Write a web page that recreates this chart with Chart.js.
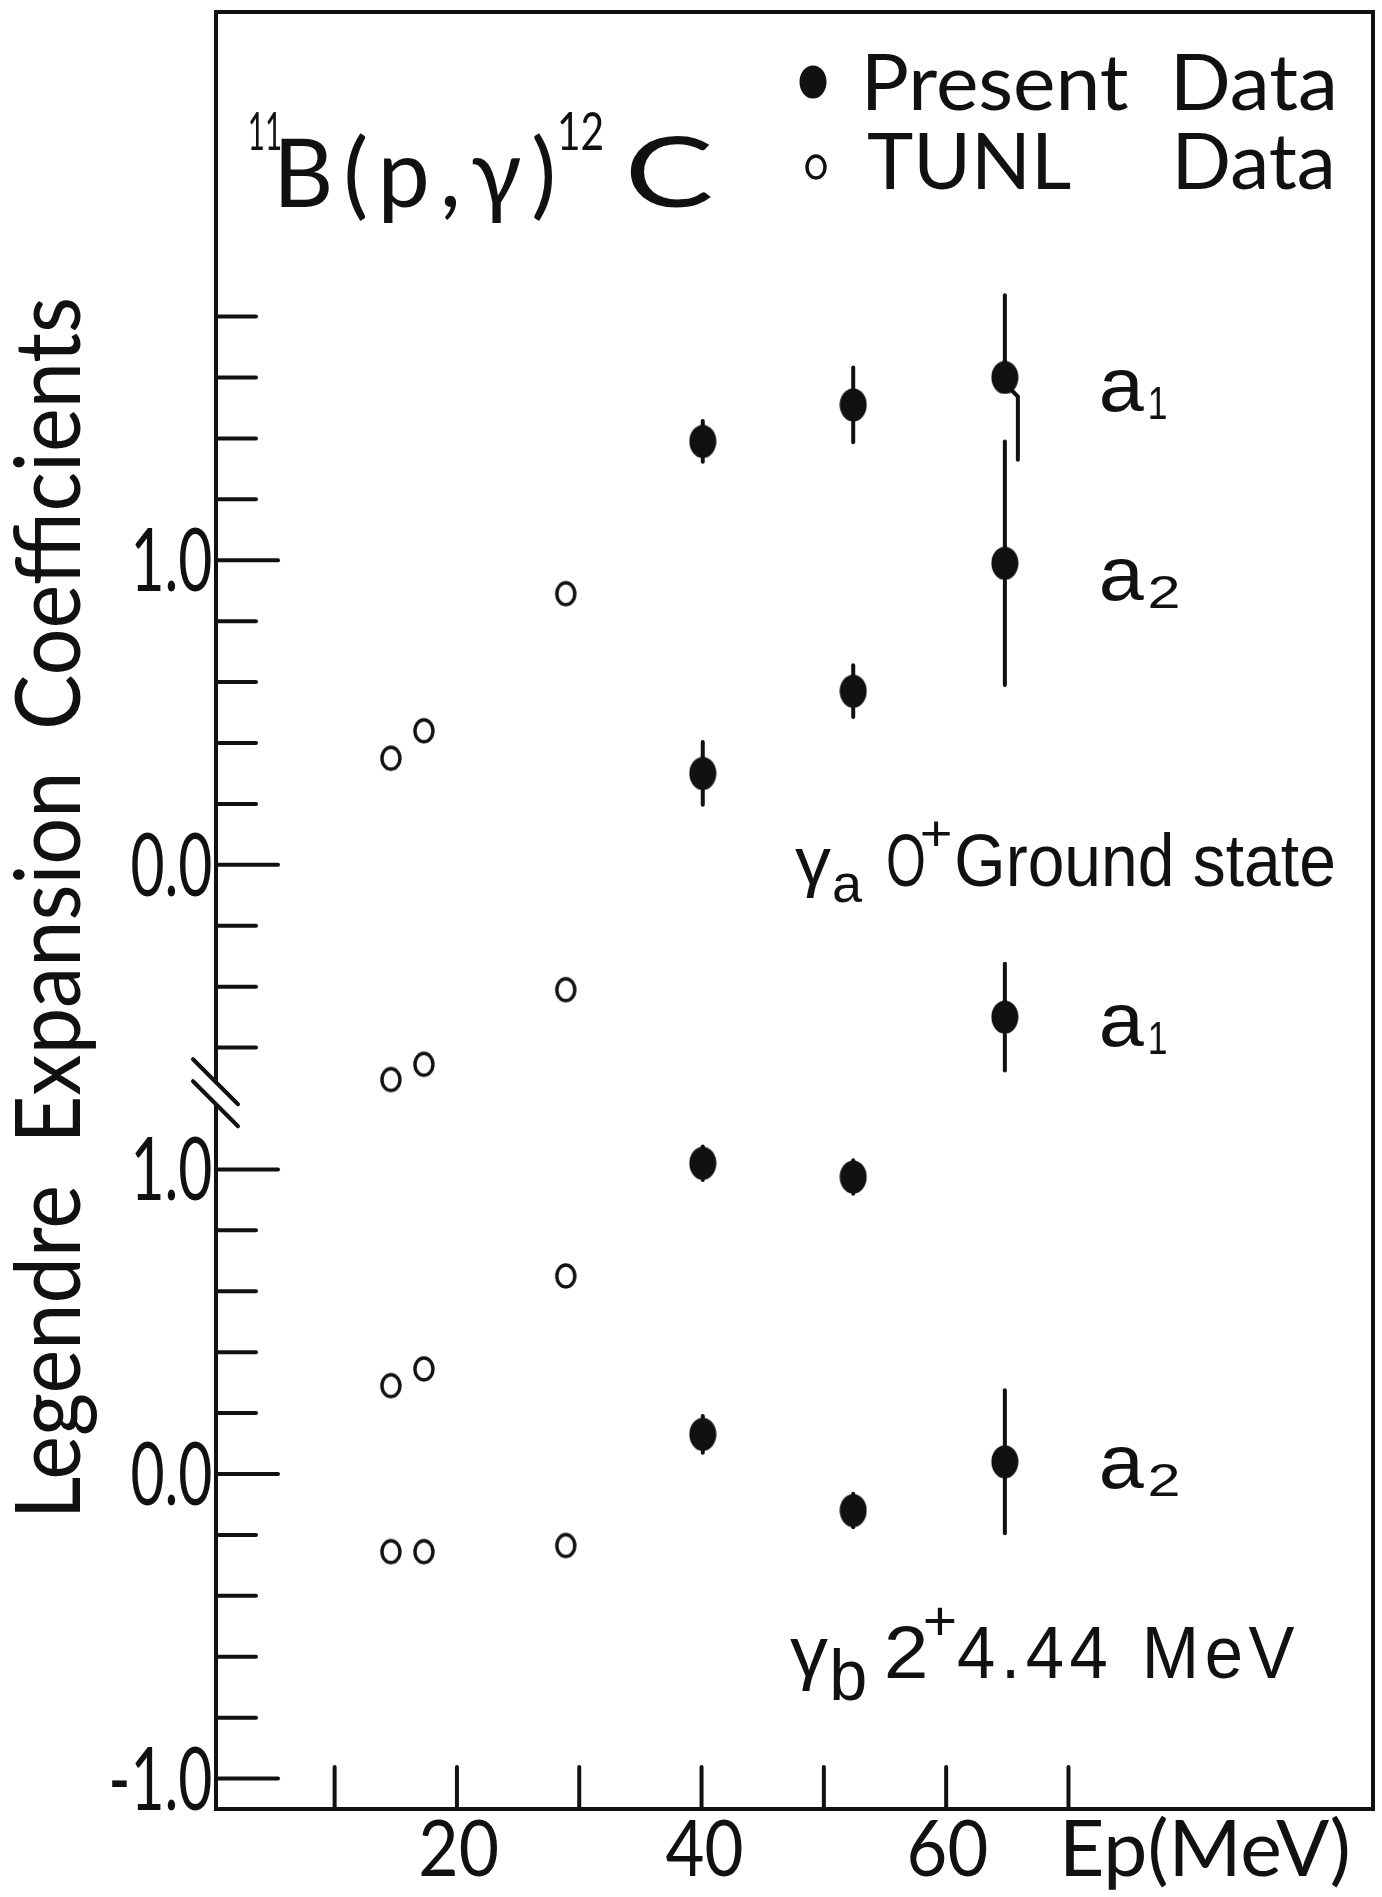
<!DOCTYPE html>
<html>
<head>
<meta charset="utf-8">
<script src="https://cdn.jsdelivr.net/npm/chart.js@4.4.1/dist/chart.umd.min.js"></script>
<style>
html,body{margin:0;padding:0;background:#fff;}
canvas{display:block;}
</style>
</head>
<body>
<canvas id="c" width="1382" height="1897"></canvas>
<script>
// ---------------- DATA ----------------
// Proton energies (MeV)
const energiesPresent = [40.1, 52.4, 64.8];
const energiesTUNL    = [14.6, 17.3, 28.9];

// gamma_a : 0+ ground state (upper panel of the broken axis)
const gammaA_a1      = [1.39, 1.51, 1.60];
const gammaA_a1_err  = [0.067, 0.123, 0.27];
const gammaA_a2      = [0.30, 0.57, 0.99];
const gammaA_a2_err  = [0.103, 0.085, 0.40];
const tunlGammaA_a1  = [0.35, 0.44, 0.89];
const tunlGammaA_a2  = [-0.705, -0.655, -0.41];

// gamma_b : 2+ 4.44 MeV (lower panel)
const gammaB_a1      = [1.02, 0.975, 1.50];
const gammaB_a1_err  = [0.055, 0.055, 0.175];
const gammaB_a2      = [0.13, -0.12, 0.04];
const gammaB_a2_err  = [0.06, 0.055, 0.235];
const tunlGammaB_a1  = [0.29, 0.345, 0.65];
const tunlGammaB_a2  = [-0.255, -0.255, -0.235];

// axis ticks
const upperSectionTicks  = [-0.6,-0.4,-0.2,0.0,0.2,0.4,0.6,0.8,1.0,1.2,1.4,1.6,1.8];
const upperSectionLabels = [0.0, 1.0];
const lowerSectionTicks  = [-1.0,-0.8,-0.6,-0.4,-0.2,0.0,0.2,0.4,0.6,0.8,1.0];
const lowerSectionLabels = [-1.0, 0.0, 1.0];
const xTicks      = [10, 20, 30, 40, 50, 60, 70];
const xTickLabels = [20, 40, 60];

const UPPER_OFFSET = 2.0;   // upper panel value 0.0 sits at lower-panel value 2.0
const BREAK_AT     = 1.25;  // where the axis break is drawn

const yAxisTitle = 'Legendre Expansion Coefficients';
const xAxisTitle = 'Ep(MeV)';

// ---------------- HELPERS ----------------
const FONT = 'Liberation Sans';
const LATO = {family: 'Lato', weight: '400', capRatio: 0.717};
const INK = '#111';
function toPlot(v, section){ return section === 'upper' ? v + UPPER_OFFSET : v; }

function makeFilled(){
  const c = document.createElement('canvas'); c.width = 28; c.height = 34;
  const g = c.getContext('2d'); g.fillStyle = INK;
  g.beginPath(); g.ellipse(14, 17, 13.5, 16.5, 0, 0, Math.PI*2); g.fill();
  return c;
}
function makeOpen(){
  const c = document.createElement('canvas'); c.width = 24; c.height = 28;
  const g = c.getContext('2d'); g.strokeStyle = INK; g.lineWidth = 3.4;
  g.beginPath(); g.ellipse(12, 14, 9, 11, 0, 0, Math.PI*2); g.stroke();
  return c;
}
const filledDot = makeFilled();
const openDot = makeOpen();

// draw text whose ink box starts at x (or is centred / right aligned), with given cap height and ink width
function drawFit(ctx, text, x, baseline, capH, width, o = {}){
  const size = o.size || capH / (o.capRatio || 0.729);
  ctx.font = `${o.weight || 'normal'} ${size}px "${o.family || FONT}"`;
  if ('letterSpacing' in ctx) ctx.letterSpacing = (o.letterSpacing || 0) + 'px';
  if ('wordSpacing' in ctx) ctx.wordSpacing = (o.wordSpacing || 0) + 'px';
  const m = ctx.measureText(text);
  const w = m.actualBoundingBoxLeft + m.actualBoundingBoxRight;
  const sx = width ? width / w : (o.sx || 1);
  const W = w * sx;
  let x0 = x;
  if (o.align === 'center') x0 = x - W/2;
  if (o.align === 'right') x0 = x - W;
  ctx.save();
  ctx.translate(x0 + m.actualBoundingBoxLeft * sx, baseline);
  ctx.scale(sx, 1);
  ctx.textAlign = 'left'; ctx.textBaseline = 'alphabetic';
  ctx.fillStyle = INK;
  ctx.fillText(text, 0, 0);
  ctx.restore();
  if ('letterSpacing' in ctx) ctx.letterSpacing = '0px';
  if ('wordSpacing' in ctx) ctx.wordSpacing = '0px';
  return x0 + W;
}

// ---------------- DATASETS ----------------
const presentGroups = [
  {vals: gammaA_a1, errs: gammaA_a1_err, section: 'upper'},
  {vals: gammaA_a2, errs: gammaA_a2_err, section: 'upper'},
  {vals: gammaB_a1, errs: gammaB_a1_err, section: 'lower'},
  {vals: gammaB_a2, errs: gammaB_a2_err, section: 'lower'}
];
const tunlGroups = [
  {vals: tunlGammaA_a1, section: 'upper'},
  {vals: tunlGammaA_a2, section: 'upper'},
  {vals: tunlGammaB_a1, section: 'lower'},
  {vals: tunlGammaB_a2, section: 'lower'}
];
const presentData = presentGroups.flatMap(g => energiesPresent.map((e, i) => ({x: e, y: toPlot(g.vals[i], g.section), err: g.errs[i]})));
const tunlData = tunlGroups.flatMap(g => energiesTUNL.map((e, i) => ({x: e, y: toPlot(g.vals[i], g.section)})));

// ---------------- PLUGINS ----------------
const errorBars = {
  id: 'errorBars',
  beforeDatasetsDraw(chart){
    const ctx = chart.ctx, xs = chart.scales.x, ys = chart.scales.y;
    const pts = chart.data.datasets[0].data.map(d => ({
      px: xs.getPixelForValue(d.x), py: ys.getPixelForValue(d.y),
      top: ys.getPixelForValue(d.y + d.err), bot: ys.getPixelForValue(d.y - d.err)
    }));
    ctx.save(); ctx.strokeStyle = INK; ctx.lineWidth = 4; ctx.lineCap = 'round';
    pts.forEach((p, i) => {
      ctx.beginPath(); ctx.moveTo(p.px, p.top); ctx.lineTo(p.px, p.py); ctx.stroke();
      const clash = pts.some((q, j) => j !== i && Math.abs(q.px - p.px) < 2 && q.py > p.py && q.top < p.bot);
      ctx.beginPath();
      if (clash){
        ctx.moveTo(p.px + 5, p.py + 11); ctx.lineTo(p.px + 13, p.py + 19); ctx.lineTo(p.px + 13, p.bot);
      } else {
        ctx.moveTo(p.px, p.py); ctx.lineTo(p.px, p.bot);
      }
      ctx.stroke();
    });
    ctx.restore();
  }
};

const decorations = {
  id: 'decorations',
  afterDraw(chart){
    const ctx = chart.ctx, xs = chart.scales.x, ys = chart.scales.y, a = chart.chartArea;
    ctx.save();
    ctx.strokeStyle = INK; ctx.lineWidth = 4; ctx.lineCap = 'butt';
    // frame with broken left axis
    const bY = ys.getPixelForValue(BREAK_AT);
    ctx.beginPath();
    ctx.moveTo(a.left, bY - 11); ctx.lineTo(a.left, a.top); ctx.lineTo(a.right, a.top);
    ctx.lineTo(a.right, a.bottom); ctx.lineTo(a.left, a.bottom); ctx.lineTo(a.left, bY + 11);
    ctx.stroke();
    // break marks
    ctx.lineCap = 'round';
    [-11, 11].forEach(dy => {
      ctx.beginPath(); ctx.moveTo(a.left - 23, bY + dy - 23); ctx.lineTo(a.left + 22, bY + dy + 22); ctx.stroke();
    });
    // y ticks (inward)
    const yt = [
      ...lowerSectionTicks.map(v => ({p: v, major: lowerSectionLabels.includes(v), lab: v})),
      ...upperSectionTicks.map(v => ({p: v + UPPER_OFFSET, major: upperSectionLabels.includes(v), lab: v}))
    ];
    yt.forEach(t => {
      const y = ys.getPixelForValue(t.p);
      ctx.beginPath(); ctx.moveTo(a.left, y); ctx.lineTo(a.left + (t.major ? 62 : 40), y); ctx.stroke();
      if (t.major) drawFit(ctx, t.lab.toFixed(1), a.left - 5, y + 31, 62, 0, {...LATO, sx: 0.68, align: 'right'});
    });
    // x ticks (inward)
    xTicks.forEach(v => {
      const x = xs.getPixelForValue(v);
      ctx.beginPath(); ctx.moveTo(x, a.bottom); ctx.lineTo(x, a.bottom - 42); ctx.stroke();
    });
    xTickLabels.forEach(v => {
      drawFit(ctx, String(v), xs.getPixelForValue(v) + 2, 1876, 56, 76, {...LATO, align: 'center'});
    });
    drawFit(ctx, xAxisTitle, 1066, 1876, 56, 282, LATO);
    // y axis title
    ctx.save(); ctx.translate(80, 1512); ctx.rotate(-Math.PI/2);
    drawFit(ctx, yAxisTitle, 0, 0, 65, 1212, {...LATO, wordSpacing: 22});
    ctx.restore();

    // reaction title
    drawFit(ctx, '11', 250, 150, 38, 30, LATO);
    drawFit(ctx, 'B(p,γ)', 281, 207, 68, 272, {...LATO, letterSpacing: 10});
    drawFit(ctx, '12', 560, 150, 38, 42, LATO);
    drawFit(ctx, 'C', 630, 207, 70, 82, LATO);

    // legend
    const ds = chart.data.datasets;
    ctx.drawImage(filledDot, 813 - 14, 82 - 17);
    drawFit(ctx, ds[0].label, 868, 110, 56, 465, {...LATO, wordSpacing: 20});
    ctx.drawImage(openDot, 816 - 12, 167 - 14);
    drawFit(ctx, ds[1].label, 868, 189, 56, 463, {...LATO, wordSpacing: 80});

    // coefficient labels
    const coef = (sub, base) => {
      const r = drawFit(ctx, 'a', 1102, base, 39, 42, {capRatio: 0.519});
      drawFit(ctx, sub, r + 6, base + 8, 34, sub === '1' ? 16 : 28);
    };
    coef('1', 411); coef('2', 600); coef('1', 1046); coef('2', 1488);

    // state labels
    drawFit(ctx, 'γ', 795, 884, 0, 36, {size: 66});
    drawFit(ctx, 'a', 834, 902, 28, 28, {capRatio: 0.519});
    drawFit(ctx, 'O', 888, 886, 54, 36);
    drawFit(ctx, '+', 922, 850, 0, 28, {size: 50});
    drawFit(ctx, 'Ground state', 957, 886, 54, 376);

    drawFit(ctx, 'γ', 790, 1676, 0, 38, {size: 70});
    drawFit(ctx, 'b', 833, 1700, 53, 32);
    drawFit(ctx, '2', 887, 1678, 54, 38);
    drawFit(ctx, '+', 925, 1640, 0, 30, {size: 55});
    drawFit(ctx, '4.44 MeV', 958, 1678, 54, 337, {letterSpacing: 6, wordSpacing: 4});
    ctx.restore();
  }
};

// ---------------- CHART ----------------
new Chart(document.getElementById('c'), {
  type: 'scatter',
  data: {
    datasets: [
      {label: 'Present Data', data: presentData, pointStyle: filledDot, showLine: false},
      {label: 'TUNL Data', data: tunlData, pointStyle: openDot, showLine: false}
    ]
  },
  options: {
    responsive: false,
    animation: false,
    devicePixelRatio: 1,
    layout: {padding: {top: 12, right: 9, left: 0, bottom: 0}},
    plugins: {legend: {display: false}, tooltip: {enabled: false}},
    scales: {
      x: {type: 'linear', min: 0.3, max: 94.9,
          ticks: {display: false}, grid: {display: false}, border: {display: false},
          afterFit: s => { s.height = 88; }},
      y: {type: 'linear', min: -1.10, max: 4.80,
          ticks: {display: false}, grid: {display: false}, border: {display: false},
          afterFit: s => { s.width = 216; }}
    }
  },
  plugins: [errorBars, decorations]
});
</script>
</body>
</html>
